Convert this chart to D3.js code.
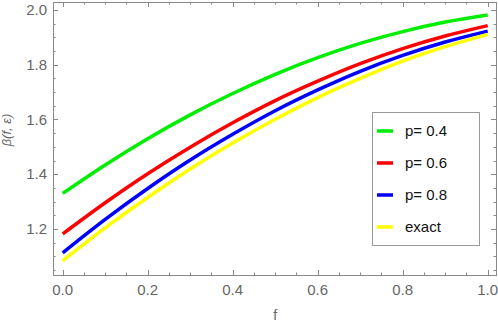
<!DOCTYPE html>
<html lang="en">
<head>
    <meta charset="UTF-8">
    <title>beta(f, eps)</title>
    <style>
        body { margin: 0; background: #fff; }
        .tick-label { font-family: "Liberation Sans", Arial, sans-serif; font-size: 15px; fill: #666; }
        .legend-text { font-family: "Liberation Sans", Arial, sans-serif; font-size: 15px; fill: #111; }
    </style>
</head>
<body>
    <script src="https://d3js.org/d3.v7.min.js"></script>
    <script>
        var width = 498;
        var height = 326;

        // data
        var fValues = [0, 0.1, 0.2, 0.3, 0.4, 0.5, 0.6, 0.7, 0.8, 0.9, 1.0];
        var p04 = [1.330, 1.434, 1.530, 1.617, 1.695, 1.765, 1.826, 1.878, 1.921, 1.956, 1.982];
        var p06 = [1.182, 1.296, 1.402, 1.499, 1.588, 1.669, 1.740, 1.804, 1.859, 1.905, 1.943];
        var p08 = [1.113, 1.235, 1.348, 1.452, 1.546, 1.632, 1.708, 1.776, 1.834, 1.883, 1.923];
        var exact = [1.084, 1.204, 1.315, 1.419, 1.514, 1.601, 1.680, 1.750, 1.813, 1.866, 1.911];
        var seriesNames = ['p= 0.4', 'p= 0.6', 'p= 0.8', 'exact'];
        var seriesColors = ['#00ee00', '#ff0000', '#0000ff', '#ffff00'];
        var xTicks = [0, 0.2, 0.4, 0.6, 0.8, 1.0];
        var yTicks = [1.2, 1.4, 1.6, 1.8, 2.0];

        // frame box
        var frame = { left: 53, right: 496, top: 2, bottom: 275 };

        var xScale = d3.scaleLinear().domain([0, 1]).range([62.7, 487.7]);
        var yScale = d3.scaleLinear().domain([1.0, 2.0]).range([283.75, 10]);

        var svg = d3.select('body').append('svg').attr('width', width).attr('height', height);

        // minor ticks every 0.05
        var xMinor = d3.range(0, 1.0001, 0.05);
        var yMinor = d3.range(1.05, 2.0001, 0.05);
        function isMajor(v) { return Math.abs(v / 0.2 - Math.round(v / 0.2)) < 1e-6; }

        var tickG = svg.append('g').attr('stroke', '#888').attr('stroke-width', 1);
        xMinor.forEach(function (v) {
            var len = isMajor(v) ? 5 : 2.5;
            var x = Math.round(xScale(v)) + 0.5;
            tickG.append('line').attr('x1', x).attr('x2', x).attr('y1', frame.bottom).attr('y2', frame.bottom - len);
            tickG.append('line').attr('x1', x).attr('x2', x).attr('y1', frame.top).attr('y2', frame.top + len);
        });
        yMinor.forEach(function (v) {
            var len = isMajor(v) ? 5 : 2.5;
            var y = Math.round(yScale(v)) + 0.5;
            tickG.append('line').attr('y1', y).attr('y2', y).attr('x1', frame.left).attr('x2', frame.left + len);
            tickG.append('line').attr('y1', y).attr('y2', y).attr('x1', frame.right).attr('x2', frame.right - len);
        });

        svg.append('rect')
            .attr('x', frame.left + 0.5).attr('y', frame.top + 0.5)
            .attr('width', frame.right - frame.left).attr('height', frame.bottom - frame.top)
            .attr('fill', 'none').attr('stroke', '#888').attr('stroke-width', 1);

        // tick labels
        svg.selectAll('.xl').data(xTicks).enter().append('text')
            .attr('class', 'tick-label')
            .attr('x', function (d) { return xScale(d); })
            .attr('y', frame.bottom + 20)
            .attr('text-anchor', 'middle')
            .text(function (d) { return d.toFixed(1); });
        svg.selectAll('.yl').data(yTicks).enter().append('text')
            .attr('class', 'tick-label')
            .attr('x', frame.left - 6)
            .attr('y', function (d) { return yScale(d) + 5; })
            .attr('text-anchor', 'end')
            .text(function (d) { return d.toFixed(1); });

        // axis titles
        svg.append('text').attr('class', 'tick-label')
            .attr('x', xScale(0.5)).attr('y', 320).attr('text-anchor', 'middle')
            .style('font-size', '14px')
            .text('f');
        svg.append('text').attr('class', 'tick-label')
            .attr('transform', 'translate(11,130) rotate(-90)')
            .attr('text-anchor', 'middle')
            .style('font-size', '13px')
            .style('font-style', 'italic')
            .text('β(f, ε)');

        // curves
        var allSeries = [p04, p06, p08, exact];
        var line = d3.line()
            .x(function (d, i) { return xScale(fValues[i]); })
            .y(function (d) { return yScale(d); })
            .curve(d3.curveMonotoneX);
        allSeries.forEach(function (s, k) {
            svg.append('path').datum(s)
                .attr('d', line)
                .attr('fill', 'none')
                .attr('stroke', seriesColors[k])
                .attr('stroke-width', 3.5);
        });

        // legend
        var legend = svg.append('g');
        legend.append('rect')
            .attr('x', 372.5).attr('y', 112.5).attr('width', 107).attr('height', 133)
            .attr('fill', '#fff').attr('stroke', '#999').attr('stroke-width', 1);
        seriesNames.forEach(function (name, k) {
            var y = 131 + k * 32;
            legend.append('line')
                .attr('x1', 377).attr('x2', 393).attr('y1', y).attr('y2', y)
                .attr('stroke', seriesColors[k]).attr('stroke-width', 3.5);
            legend.append('text').attr('class', 'legend-text')
                .attr('x', 405).attr('y', y + 5)
                .text(name);
        });
    </script>
</body>
</html>
